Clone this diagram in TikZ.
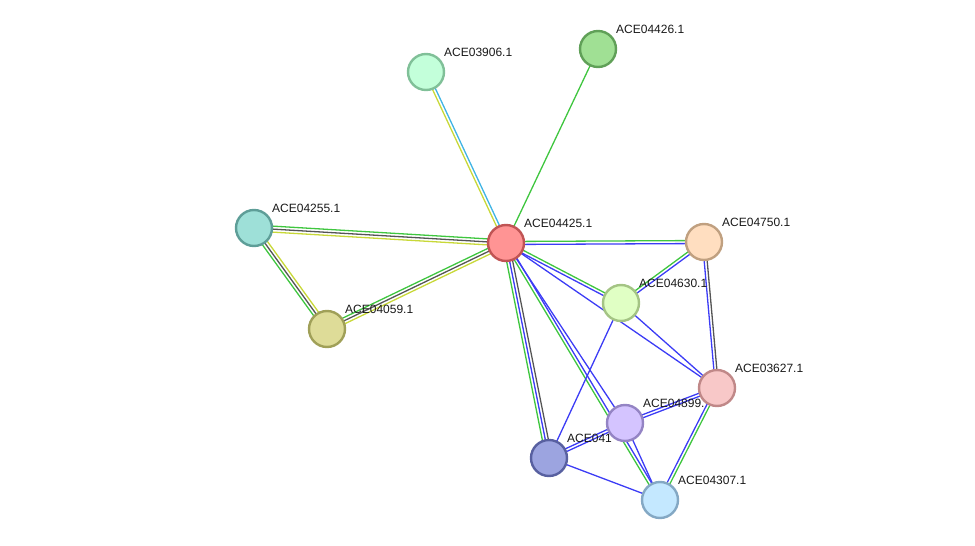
\documentclass[tikz,border=0pt]{standalone}
\usepackage{fontspec}
\setmainfont{Liberation Sans}
\usetikzlibrary{calc}
\definecolor{cgreen}{HTML}{3FC63F}
\definecolor{cblue}{HTML}{3C3CF5}
\definecolor{cblack}{HTML}{555555}
\definecolor{cyellow}{HTML}{C8D838}
\definecolor{ccyan}{HTML}{40B4E4}
\tikzset{
  prot/.style={circle, draw, line width=2.4pt, minimum size=36pt, inner sep=0pt},
  lbl/.style={anchor=base west, font=\fontsize{12}{14}\selectfont, inner sep=0pt, text=black!90},
  ln/.style={line width=1.3pt}
}
\newcommand\eline[4]{\draw[ln,#4] ($(#1)!#3!90:(#2)$) -- ($(#2)!#3!-90:(#1)$);}
\begin{document}
\begin{tikzpicture}[x=1pt,y=-1pt]
\useasboundingbox (0,0) rectangle (975,546);
% coordinates
\coordinate (p04425) at (506,243);
\coordinate (p03906) at (426,72);
\coordinate (p04426) at (598,49);
\coordinate (p04255) at (254,228);
\coordinate (p04059) at (327,329);
\coordinate (p04750) at (704,242);
\coordinate (p04630) at (621,303);
\coordinate (p03627) at (717,388);
\coordinate (p04899) at (625,423);
\coordinate (p041) at (549,458);
\coordinate (p04307) at (660,500);
% edges
\eline{p04425}{p03906}{1.5pt}{cyellow}
\eline{p04425}{p03906}{-1.5pt}{ccyan}
\eline{p04425}{p04426}{0pt}{cgreen}
\eline{p04425}{p04255}{-3pt}{cgreen}
\eline{p04425}{p04255}{0pt}{cblack}
\eline{p04425}{p04255}{3pt}{cyellow}
\eline{p04425}{p04059}{-3pt}{cgreen}
\eline{p04425}{p04059}{0pt}{cblack}
\eline{p04425}{p04059}{3pt}{cyellow}
\eline{p04255}{p04059}{-3pt}{cgreen}
\eline{p04255}{p04059}{0pt}{cblack}
\eline{p04255}{p04059}{3pt}{cyellow}
\eline{p04425}{p04750}{1.5pt}{cgreen}
\eline{p04425}{p04750}{-1.5pt}{cblue}
\eline{p04425}{p04630}{1.5pt}{cgreen}
\eline{p04425}{p04630}{-1.5pt}{cblue}
\eline{p04425}{p03627}{0pt}{cblue}
\eline{p04425}{p04899}{0pt}{cblue}
\eline{p04425}{p04307}{-1.5pt}{cgreen}
\eline{p04425}{p04307}{1.5pt}{cblue}
\eline{p04425}{p041}{-3pt}{cgreen}
\eline{p04425}{p041}{0pt}{cblue}
\eline{p04425}{p041}{3pt}{cblack}
\eline{p04750}{p04630}{-1.5pt}{cgreen}
\eline{p04750}{p04630}{1.5pt}{cblue}
\eline{p04750}{p03627}{-1.5pt}{cblue}
\eline{p04750}{p03627}{1.5pt}{cblack}
\eline{p04630}{p03627}{0pt}{cblue}
\eline{p04630}{p041}{0pt}{cblue}
\eline{p04899}{p03627}{1.5pt}{cblue}
\eline{p04899}{p03627}{-1.5pt}{cblue}
\eline{p041}{p04899}{1.5pt}{cblue}
\eline{p041}{p04899}{-1.5pt}{cblue}
\eline{p041}{p04307}{0pt}{cblue}
\eline{p04899}{p04307}{0pt}{cblue}
\eline{p04307}{p03627}{1.5pt}{cblue}
\eline{p04307}{p03627}{-1.5pt}{cgreen}
% labels
\node[lbl] (l04425) at ($(p04425)+(18,-16)$) {ACE04425.1};
\node[lbl] (l03906) at ($(p03906)+(18,-16)$) {ACE03906.1};
\node[lbl] (l04426) at ($(p04426)+(18,-16)$) {ACE04426.1};
\node[lbl] (l04255) at ($(p04255)+(18,-16)$) {ACE04255.1};
\node[lbl] (l04059) at ($(p04059)+(18,-16)$) {ACE04059.1};
\node[lbl] (l04750) at ($(p04750)+(18,-16)$) {ACE04750.1};
\node[lbl] (l04630) at ($(p04630)+(18,-16)$) {ACE04630.1};
\node[lbl] (l03627) at ($(p03627)+(18,-16)$) {ACE03627.1};
\node[lbl] (l04899) at ($(p04899)+(18,-16)$) {ACE04899.};
\node[lbl] (l041) at ($(p041)+(18,-16)$) {ACE041};
\node[lbl] (l04307) at ($(p04307)+(18,-16)$) {ACE04307.1};
% nodes
\node[prot, fill={rgb,255:red,255;green,148;blue,148}, draw={rgb,255:red,192;green,84;blue,84}] (n04425) at (p04425) {};
\node[prot, fill={rgb,255:red,195;green,255;blue,218}, draw={rgb,255:red,128;green,192;blue,152}] (n03906) at (p03906) {};
\node[prot, fill={rgb,255:red,160;green,224;blue,148}, draw={rgb,255:red,96;green,160;blue,88}] (n04426) at (p04426) {};
\node[prot, fill={rgb,255:red,158;green,224;blue,216}, draw={rgb,255:red,94;green,158;blue,152}] (n04255) at (p04255) {};
\node[prot, fill={rgb,255:red,222;green,220;blue,152}, draw={rgb,255:red,160;green,160;blue,88}] (n04059) at (p04059) {};
\node[prot, fill={rgb,255:red,255;green,222;blue,192}, draw={rgb,255:red,192;green,160;blue,128}] (n04750) at (p04750) {};
\node[prot, fill={rgb,255:red,224;green,255;blue,196}, draw={rgb,255:red,164;green,196;blue,132}] (n04630) at (p04630) {};
\node[prot, fill={rgb,255:red,248;green,200;blue,200}, draw={rgb,255:red,192;green,136;blue,136}] (n03627) at (p03627) {};
\node[prot, fill={rgb,255:red,212;green,196;blue,255}, draw={rgb,255:red,148;green,132;blue,196}] (n04899) at (p04899) {};
\node[prot, fill={rgb,255:red,156;green,164;blue,224}, draw={rgb,255:red,88;green,96;blue,160}] (n041) at (p041) {};
\node[prot, fill={rgb,255:red,196;green,232;blue,255}, draw={rgb,255:red,132;green,168;blue,196}] (n04307) at (p04307) {};
\end{tikzpicture}
\end{document}
